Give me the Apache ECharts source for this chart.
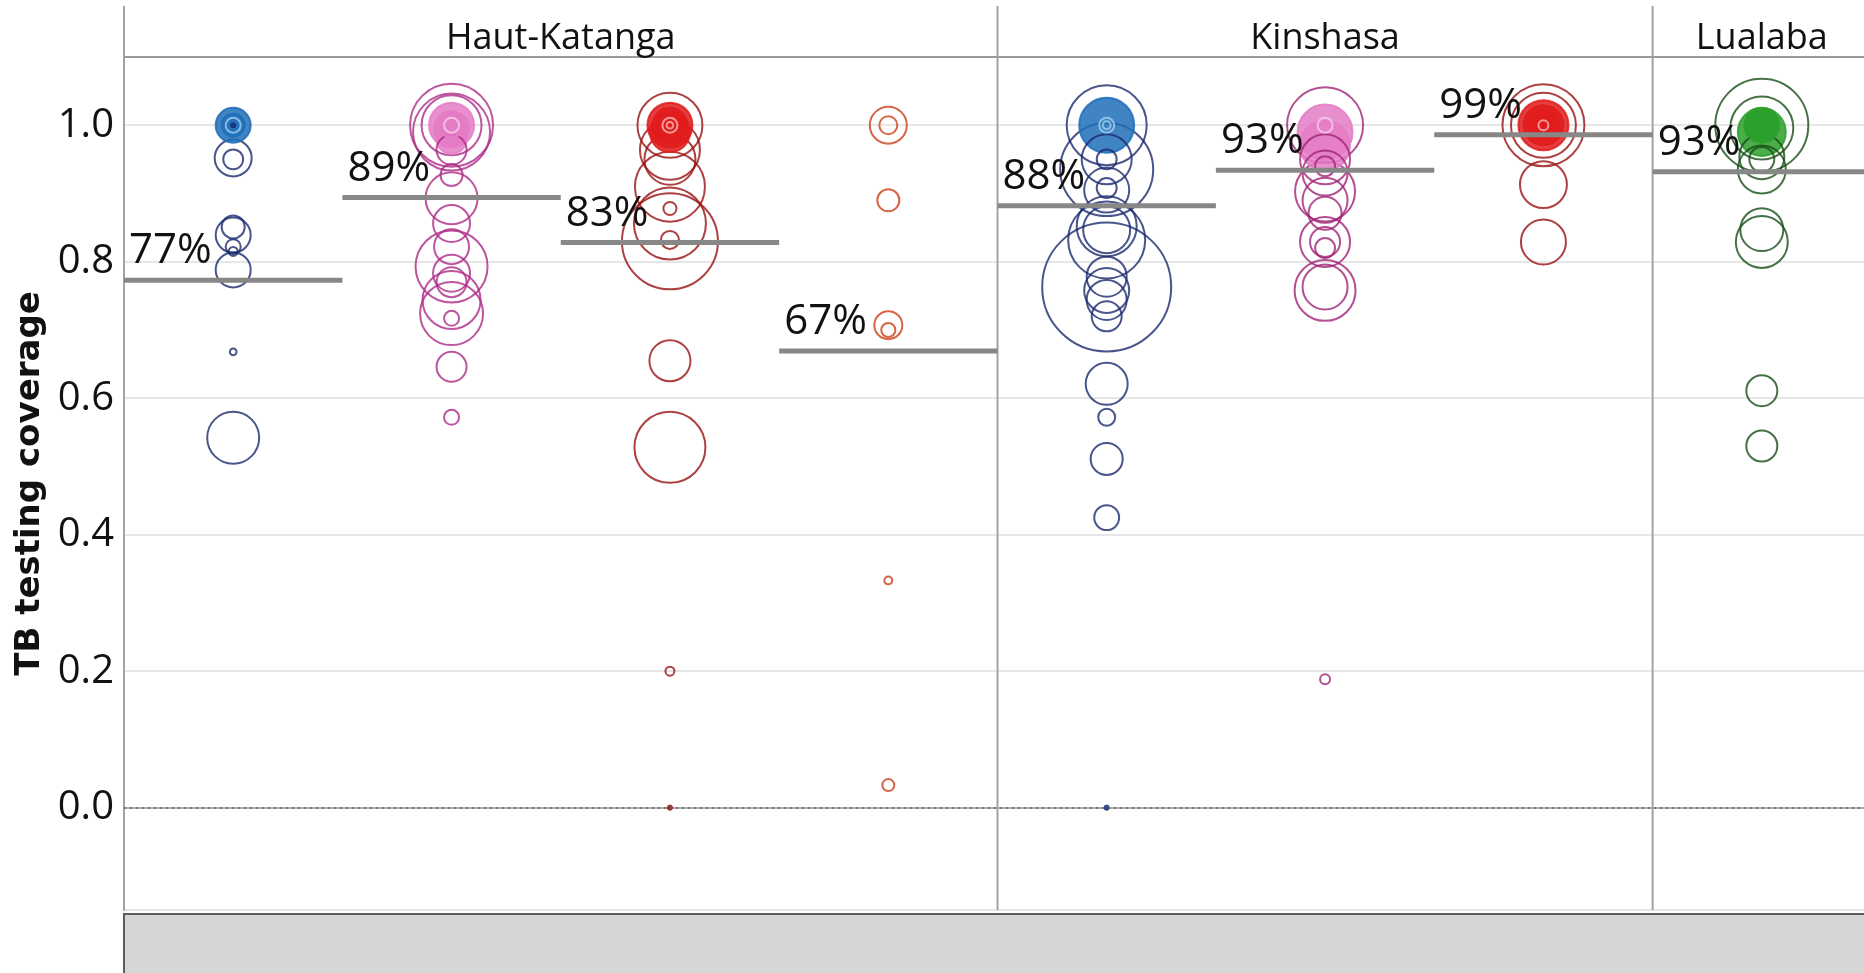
<!DOCTYPE html>
<html lang="en">
<head>
	<meta charset="UTF-8">
	<title>TB testing coverage</title>
	<script src="https://cdn.jsdelivr.net/npm/echarts@6/dist/echarts.min.js"></script>
	<style>
		html, body { margin: 0; padding: 0; background: #fff; overflow: hidden; }
		#chart { width: 1880px; height: 973px; }
	</style>
</head>
<body>
	<div id="chart"></div>
	<script>
		// columns (one per facility group), grouped in province panels
		let categories = ['HK-1', 'HK-2', 'HK-3', 'HK-4', 'KIN-1', 'KIN-2', 'KIN-3', 'LUA-1'];
		let panelNames = ['Haut-Katanga', 'Kinshasa', 'Lualaba'];
		let panelStart = [0, 4, 7];
		let panelCount = [4, 3, 1];
		let medians = [0.773, 0.894, 0.828, 0.669, 0.882, 0.934, 0.986, 0.932];
		let yTicks = [0, 0.2, 0.4, 0.6, 0.8, 1.0];

		// [coverage, presumptive cases]
		let hkBlue = [[1.0, 136], [1.0, 59], [1.0, 25], [1.0, 3], [0.952, 152], [0.95, 44], [0.851, 59], [0.839, 136],
			[0.822, 25], [0.815, 9], [0.788, 136], [0.668, 5], [0.542, 300]];
		let hkPink = [[1.0, 765], [0.99, 659], [1.0, 400], [1.0, 225], [0.995, 136], [1.0, 69], [1.0, 25], [0.98, 100],
			[0.964, 100], [0.927, 54], [0.893, 300], [0.856, 152], [0.822, 136], [0.793, 576], [0.783, 152], [0.77, 100],
			[0.744, 374], [0.724, 441], [0.717, 25], [0.646, 100], [0.572, 25]];
		let hkRed = [[1.0, 469], [1.0, 225], [1.0, 136], [1.0, 69], [1.0, 25], [1.0, 5], [0.99, 178], [0.964, 400],
			[0.95, 289], [0.91, 544], [0.878, 19], [0.856, 576], [0.83, 1024], [0.832, 36], [0.655, 187], [0.528, 560],
			[0.2, 9], [0.0, 3]];
		let hkOrange = [[1.0, 152], [1.0, 36], [0.89, 54], [0.707, 87], [0.70, 22], [0.333, 7], [0.033, 16]];
		let kinBlue = [[1.0, 711], [0.935, 961], [1.0, 336], [0.95, 278], [0.905, 225], [1.0, 25], [1.0, 7], [0.95, 44],
			[0.908, 44], [0.852, 400], [0.832, 659], [0.847, 245], [0.763, 1849], [0.778, 178], [0.758, 225],
			[0.744, 178], [0.72, 100], [0.621, 196], [0.572, 32], [0.511, 114], [0.425, 69], [0.0, 3]];
		let kinPink = [[1.0, 642], [0.99, 336], [0.97, 278], [0.95, 278], [0.93, 225], [1.0, 25], [0.94, 44],
			[0.903, 400], [0.89, 225], [0.871, 121], [0.829, 278], [0.829, 100], [0.82, 44], [0.758, 413],
			[0.763, 225], [0.188, 11]];
		let kinRed = [[1.0, 747], [1.0, 469], [1.0, 278], [1.0, 178], [1.0, 100], [1.0, 44], [1.0, 11], [0.913, 245],
			[0.829, 225]];
		let luaGreen = [[1.0, 961], [0.996, 441], [0.99, 256], [1.0, 100], [1.0, 136], [0.954, 225], [0.95, 69],
			[0.935, 256], [0.847, 205], [0.829, 300], [0.611, 107], [0.53, 107]];

		let columnPoints = [hkBlue, hkPink, hkRed, hkOrange, kinBlue, kinPink, kinRed, luaGreen];
		let ringColors = ['#1c2b6e', '#ad2b87', '#981212', '#cc3f18', '#1c2b6e', '#a02477', '#981212', '#174f17'];
		let fillColors = ['#1f6fb8', '#e47cc6', '#e01c1c', null, '#1f6fb8', '#e47cc6', '#e01c1c', '#2ca02c'];
		let lightColors = ['#9fd0f0', '#f7cde8', '#f6b8b8', '#ffc9a3', '#9fd0f0', '#f7cde8', '#f6b8b8', '#a8e0a8'];

		let font = '"Open Sans", "Noto Sans", sans-serif';
		let sizeK = 3;
		function diam(n) { return sizeK * Math.sqrt(n); }

		let chart = echarts.init(document.getElementById('chart'));

		let scatterSeries = columnPoints.map(function(pts, ci) {
			let items = pts.map(p => [categories[ci], p[0], p[1]])
				.sort((a, b) => b[2] - a[2])
				.map(function(d) {
					let s = diam(d[2]);
					let style;
					if (s < 6) {
						style = {color: ringColors[ci], borderColor: ringColors[ci], borderWidth: 1};
					} else if (fillColors[ci] && d[1] >= 0.97 && s <= 17) {
						style = {color: 'rgba(0,0,0,0)', borderColor: lightColors[ci], borderWidth: 2};
					} else if (fillColors[ci] && d[1] >= 0.97 && s <= 56) {
						style = {color: fillColors[ci], opacity: 0.85, borderColor: fillColors[ci], borderWidth: 2};
					} else {
						style = {color: 'rgba(0,0,0,0)', borderColor: ringColors[ci], borderWidth: 2};
					}
					return {value: d, itemStyle: style};
				});
			let s = {
				type: 'scatter',
				name: categories[ci],
				data: items,
				symbol: 'circle',
				symbolSize: d => diam(d[2]),
				clip: false,
				z: 2
			};
			if (ci === 0) {
				s.markLine = {
					silent: true,
					symbol: 'none',
					label: {show: false},
					lineStyle: {color: '#666', type: [2, 4], width: 1.5},
					data: [{yAxis: 0}]
				};
			}
			return s;
		});

		let panelSeries = {
			type: 'custom',
			clip: false,
			silent: true,
			z: 1,
			data: panelNames.map((n, i) => [categories[panelStart[i]], panelCount[i], n]),
			renderItem: function(params, api) {
				let bw = api.size([1, 0])[0];
				let c = api.coord([api.value(0), 1.1]);
				let bottom = api.coord([api.value(0), -0.15])[1];
				let left = c[0] - bw / 2;
				let right = left + api.value(1) * bw;
				let top = c[1];
				return {
					type: 'group',
					children: [
						{type: 'line', shape: {x1: left, y1: top - 51, x2: left, y2: bottom},
							style: {stroke: '#a3a3a3', lineWidth: 2}},
						{type: 'line', shape: {x1: left, y1: top, x2: right, y2: top},
							style: {stroke: '#9a9a9a', lineWidth: 2}},
						{type: 'text', x: (left + right) / 2, y: top - 18,
							style: {text: panelNames[params.dataIndex], fontSize: 36, fontFamily: font,
								fill: '#111', align: 'center', verticalAlign: 'middle'}}
					]
				};
			}
		};

		let medianSeries = {
			type: 'custom',
			clip: false,
			silent: true,
			z: 5,
			data: medians.map((m, i) => [categories[i], m]),
			renderItem: function(params, api) {
				let bw = api.size([1, 0])[0];
				let c = api.coord([api.value(0), api.value(1)]);
				let left = c[0] - bw / 2;
				return {
					type: 'group',
					children: [
						{type: 'line', shape: {x1: left, y1: c[1], x2: left + bw, y2: c[1]},
							style: {stroke: '#878787', lineWidth: 5}},
						{type: 'text', x: left + 5, y: c[1] - 8,
							style: {text: Math.round(api.value(1) * 100) + '%', fontSize: 42, fontFamily: font,
								fill: '#111', align: 'left', verticalAlign: 'bottom'}}
					]
				};
			}
		};

		let option = {
			animation: false,
			backgroundColor: '#fff',
			grid: {left: 124, top: 57, width: 1747, height: 853, containLabel: false},
			xAxis: {
				type: 'category',
				data: categories,
				axisLine: {show: true, lineStyle: {color: '#a8a8a8', width: 2}},
				axisTick: {show: false},
				axisLabel: {show: false},
				splitLine: {show: false}
			},
			yAxis: {
				type: 'value',
				min: -0.15,
				max: 1.1,
				splitNumber: 6,
				name: 'TB testing coverage',
				nameLocation: 'middle',
				nameGap: 65,
				nameTextStyle: {fontSize: 34, fontWeight: 'bold', fontFamily: '"DejaVu Sans", sans-serif', color: '#111'},
				axisLine: {show: true, lineStyle: {color: '#9a9a9a', width: 2}},
				axisTick: {show: false},
				axisLabel: {
					fontSize: 40, fontFamily: font, color: '#111', margin: 10,
					formatter: function(v) {
						let hit = yTicks.some(t => Math.abs(t - v) < 1e-6);
						return hit ? Math.abs(v).toFixed(1) : '';
					}
				},
				splitLine: {show: true, lineStyle: {color: '#e6e6e6', width: 2}}
			},
			graphic: [{
				type: 'rect',
				shape: {x: 124, y: 914, width: 1760, height: 70},
				style: {fill: '#d6d6d6', stroke: '#5c5c5c', lineWidth: 2}
			}],
			series: [panelSeries].concat(scatterSeries, [medianSeries])
		};
		chart.setOption(option);
	</script>
</body>
</html>
